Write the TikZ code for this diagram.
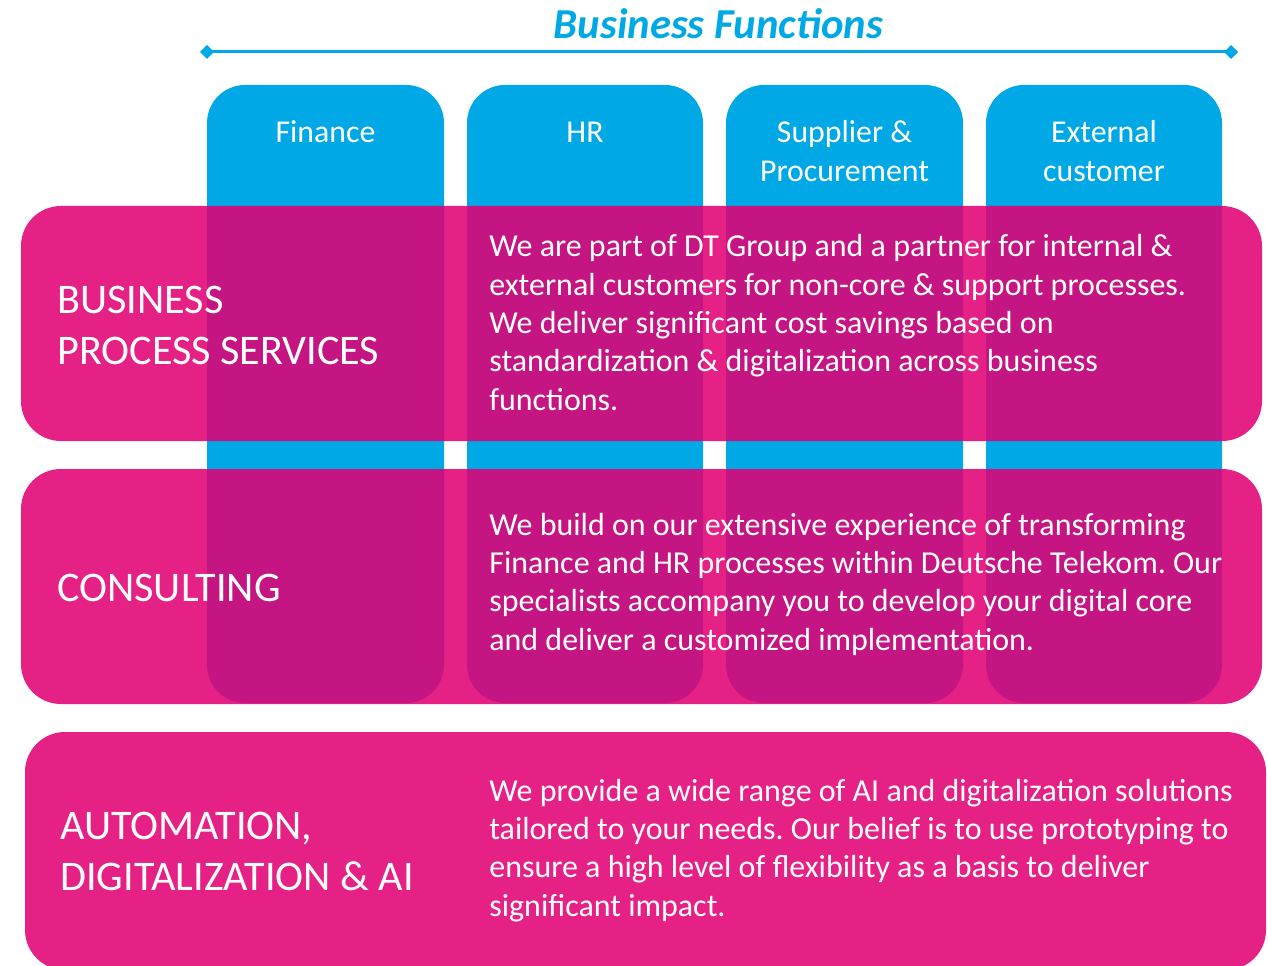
\documentclass[tikz,border=0pt]{standalone}
\usepackage{fontspec}
\setmainfont{Carlito}
\frenchspacing
\definecolor{tblue}{RGB}{0,169,230}
\definecolor{tpink}{RGB}{226,0,116}
\begin{document}
\begin{tikzpicture}[x=0.02cm,y=-0.02cm,
  colbox/.style={fill=tblue, rounded corners=0.76cm},
  band/.style={fill=tpink, fill opacity=0.87, rounded corners=0.8cm},
  coltext/.style={text=white, align=center, inner sep=0pt, font=\fontsize{18.1}{22.2}\selectfont},
  bodytext/.style={text=white, align=left, anchor=base west, inner sep=0pt, font=\fontsize{18.2}{21.8}\selectfont},
  labeltext/.style={text=white, align=left, anchor=base west, inner sep=0pt, font=\fontsize{24}{29}\selectfont},
  axis/.style={draw=tblue, line width=0.06cm},
]
\useasboundingbox (0,0) rectangle (1268,966);
% title and axis
\node[text=tblue, font=\fontsize{24.3}{28}\selectfont\bfseries\itshape, inner sep=0pt] (title) at (718.5,24) {Business Functions};
\coordinate (al) at (207,52);
\coordinate (ar) at (1231,52);
\draw[axis] (al) -- (ar);
\path[fill=tblue] (al) ++(-7,0) -- ++(7,-7) -- ++(7,7) -- ++(-7,7) -- cycle;
\path[fill=tblue] (ar) ++(-7,0) -- ++(7,-7) -- ++(7,7) -- ++(-7,7) -- cycle;
% columns
\path[colbox] (207,85) rectangle (444,703);
\path[colbox] (467,85) rectangle (703,703);
\path[colbox] (726,85) rectangle (963,703);
\path[colbox] (986,85) rectangle (1222,703);
\node[coltext] (c1) at (325.5,132) {Finance};
\node[coltext] (c2) at (585,132) {HR};
\node[coltext] (c3) at (844.5,151) {Supplier \&\\Procurement};
\node[coltext] (c4) at (1104,151) {External\\customer};
% bands
\path[band] (21,206) rectangle (1262,441);
\path[band] (21,469) rectangle (1262,704);
\path[band] (25,732) rectangle (1266,970);
% labels (anchored at the baseline of the last line)
\node[labeltext] (l1) at (57,364) {BUSINESS\\PROCESS SERVICES};
\node[labeltext] (l2) at (57,601) {CONSULTING};
\node[labeltext] (l3) at (60,890) {AUTOMATION,\\DIGITALIZATION \& AI};
% body texts (anchored at the baseline of the last line)
\node[bodytext] (t1) at (489,410) {We are part of DT Group and a partner for internal \&\\external customers for non-core \& support processes.\\We deliver significant cost savings based on\\standardization \& digitalization across business\\functions.};
\node[bodytext] (t2) at (489,650) {We build on our extensive experience of transforming\\Finance and HR processes within Deutsche Telekom. Our\\specialists accompany you to develop your digital core\\and deliver a customized implementation.};
\node[bodytext] (t3) at (489,916) {We provide a wide range of AI and digitalization solutions\\tailored to your needs. Our belief is to use prototyping to\\ensure a high level of flexibility as a basis to deliver\\significant impact.};
\end{tikzpicture}
\end{document}
